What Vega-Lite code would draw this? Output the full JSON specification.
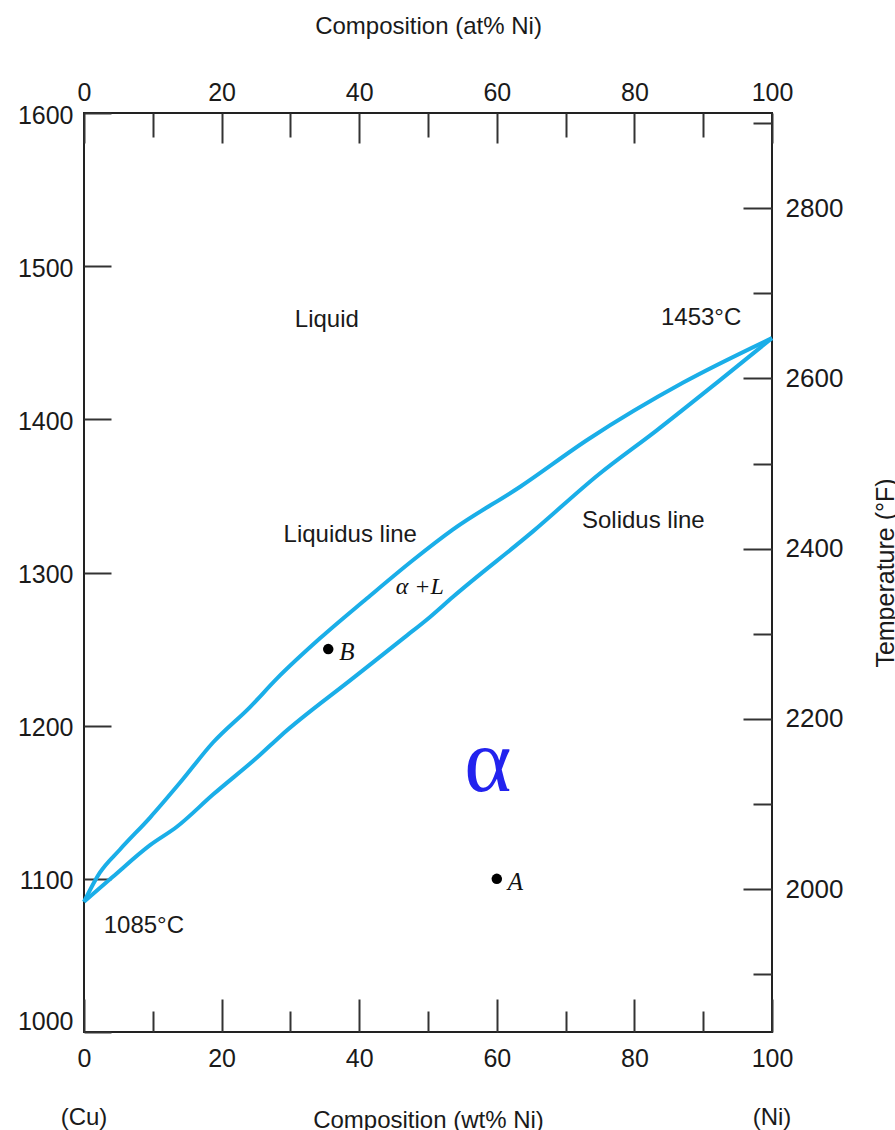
{
  "$schema": "https://vega.github.io/schema/vega-lite/v6.json",
  "width": 688,
  "height": 919,
  "autosize": "none",
  "padding": {"left": 84, "top": 113, "right": 123, "bottom": 98},
  "background": "white",
  "config": {
    "view": {"stroke": "#222", "strokeWidth": 2},
    "axis": {
      "domain": false, "grid": false,
      "labelFont": "Liberation Sans", "titleFont": "Liberation Sans",
      "labelColor": "#1a1a1a", "titleColor": "#1a1a1a", "titleFontWeight": "normal",
      "tickColor": "#333", "tickWidth": 2, "labelOverlap": false
    }
  },
  "datasets": {
    "curves": [
      {"curve": "liquidus", "wt": 0, "T": 1085},
      {"curve": "liquidus", "wt": 2.3, "T": 1104},
      {"curve": "liquidus", "wt": 5.2, "T": 1119},
      {"curve": "liquidus", "wt": 9.6, "T": 1140},
      {"curve": "liquidus", "wt": 14, "T": 1163},
      {"curve": "liquidus", "wt": 18.75, "T": 1189},
      {"curve": "liquidus", "wt": 24.1, "T": 1212},
      {"curve": "liquidus", "wt": 28.1, "T": 1231},
      {"curve": "liquidus", "wt": 34.3, "T": 1257},
      {"curve": "liquidus", "wt": 41.1, "T": 1283},
      {"curve": "liquidus", "wt": 47.8, "T": 1308},
      {"curve": "liquidus", "wt": 53.6, "T": 1328},
      {"curve": "liquidus", "wt": 63.4, "T": 1356},
      {"curve": "liquidus", "wt": 73.3, "T": 1387},
      {"curve": "liquidus", "wt": 87.1, "T": 1424},
      {"curve": "liquidus", "wt": 100, "T": 1453},
      {"curve": "solidus", "wt": 0, "T": 1085},
      {"curve": "solidus", "wt": 4.1, "T": 1101},
      {"curve": "solidus", "wt": 9.6, "T": 1122},
      {"curve": "solidus", "wt": 13.5, "T": 1134},
      {"curve": "solidus", "wt": 18.75, "T": 1155},
      {"curve": "solidus", "wt": 25.6, "T": 1181},
      {"curve": "solidus", "wt": 28.5, "T": 1193},
      {"curve": "solidus", "wt": 39.1, "T": 1231},
      {"curve": "solidus", "wt": 46.4, "T": 1257},
      {"curve": "solidus", "wt": 50.3, "T": 1271},
      {"curve": "solidus", "wt": 53.6, "T": 1284},
      {"curve": "solidus", "wt": 65.3, "T": 1327},
      {"curve": "solidus", "wt": 74.8, "T": 1364},
      {"curve": "solidus", "wt": 83.3, "T": 1393},
      {"curve": "solidus", "wt": 92, "T": 1424},
      {"curve": "solidus", "wt": 100, "T": 1453}
    ],
    "pts": [
      {"lbl": "A", "wt": 60, "T": 1100, "F": 2012},
      {"lbl": "B", "wt": 35.5, "T": 1250, "F": 2282}
    ],
    "notes": [
      {"label": "Liquid", "wt": 35.3, "T": 1465},
      {"label": "1453°C", "wt": 89.7, "T": 1466},
      {"label": "1085°C", "wt": 8.7, "T": 1069},
      {"label": "Liquidus line", "wt": 38.7, "T": 1324.5},
      {"label": "Solidus line", "wt": 81.3, "T": 1333.6}
    ],
    "phase": [
      {"label": "α +L", "wt": 48.8, "T": 1290.5}
    ],
    "alpha": [
      {"label": "α", "wt": 58.7, "T": 1175}
    ],
    "ends": [
      {"label": "(Cu)", "wt": 0, "T": 1000},
      {"label": "(Ni)", "wt": 100, "T": 1000}
    ]
  },
  "layer": [
    {
      "data": {"name": "curves"},
      "mark": {"type": "line", "color": "#1aaee8", "strokeWidth": 4, "interpolate": "monotone"},
      "encoding": {
        "x": {
          "field": "wt", "type": "quantitative",
          "scale": {"domain": [0, 100], "nice": false},
          "axis": {
            "orient": "bottom",
            "values": [0, 10, 20, 30, 40, 50, 60, 70, 80, 90, 100],
            "format": "d",
            "labelExpr": "datum.value % 20 === 0 ? datum.label : ''",
            "tickSize": {"condition": {"test": "datum.value % 20 === 0", "value": -33}, "value": -21},
            "labelPadding": 47, "labelFontSize": 25, "labelFlush": false,
            "title": "Composition (wt% Ni)", "titleFontSize": 24, "titlePadding": 25
          }
        },
        "y": {
          "field": "T", "type": "quantitative",
          "scale": {"domain": [1000, 1600], "nice": false, "zero": false},
          "axis": {
            "orient": "left",
            "values": [1000, 1100, 1200, 1300, 1400, 1500, 1600],
            "format": "d",
            "tickSize": -27, "labelPadding": 38, "labelFontSize": 25, "labelFlush": false,
            "labelBaseline": {"condition": {"test": "datum.value === 1000", "value": "bottom"}, "value": "middle"},
            "labelOffset": 2,
            "title": null
          }
        },
        "detail": {"field": "curve"}
      }
    },
    {
      "data": {"name": "pts"},
      "mark": {"type": "circle", "size": 110, "color": "black", "opacity": 1},
      "encoding": {
        "x": {
          "field": "wt", "type": "quantitative",
          "scale": {"domain": [0, 100], "nice": false},
          "axis": {
            "orient": "top",
            "values": [0, 10, 20, 30, 40, 50, 60, 70, 80, 90, 100],
            "format": "d",
            "labelExpr": "datum.value % 20 === 0 ? datum.label : ''",
            "tickSize": {"condition": {"test": "datum.value % 20 === 0", "value": -30}, "value": -24},
            "labelPadding": 38, "labelFontSize": 25, "labelFlush": false,
            "title": "Composition (at% Ni)", "titleFontSize": 24, "titlePadding": 36
          }
        },
        "y": {"field": "T", "type": "quantitative", "scale": {"domain": [1000, 1600], "nice": false, "zero": false}, "axis": null}
      }
    },
    {
      "data": {"name": "pts"},
      "mark": {"type": "text", "font": "Liberation Serif", "fontStyle": "italic", "fontSize": 25, "align": "left", "baseline": "middle", "dx": 11, "dy": 3, "color": "#111"},
      "encoding": {
        "x": {"field": "wt", "type": "quantitative", "axis": null},
        "y": {"field": "T", "type": "quantitative", "scale": {"domain": [1000, 1600], "nice": false, "zero": false}, "axis": null},
        "text": {"field": "lbl"}
      }
    },
    {
      "data": {"name": "notes"},
      "mark": {"type": "text", "font": "Liberation Sans", "fontSize": 24, "align": "center", "baseline": "middle", "color": "#1a1a1a"},
      "encoding": {
        "x": {"field": "wt", "type": "quantitative", "axis": null},
        "y": {"field": "T", "type": "quantitative", "scale": {"domain": [1000, 1600], "nice": false, "zero": false}, "axis": null},
        "text": {"field": "label"}
      }
    },
    {
      "data": {"name": "phase"},
      "mark": {"type": "text", "font": "Liberation Serif", "fontStyle": "italic", "fontSize": 24, "align": "center", "baseline": "middle", "color": "#111"},
      "encoding": {
        "x": {"field": "wt", "type": "quantitative", "axis": null},
        "y": {"field": "T", "type": "quantitative", "scale": {"domain": [1000, 1600], "nice": false, "zero": false}, "axis": null},
        "text": {"field": "label"}
      }
    },
    {
      "data": {"name": "alpha"},
      "mark": {"type": "text", "font": "Liberation Serif", "fontSize": 90, "align": "center", "baseline": "middle", "color": "#2323ee"},
      "encoding": {
        "x": {"field": "wt", "type": "quantitative", "axis": null},
        "y": {"field": "T", "type": "quantitative", "scale": {"domain": [1000, 1600], "nice": false, "zero": false}, "axis": null},
        "text": {"field": "label"}
      }
    },
    {
      "data": {"name": "ends"},
      "mark": {"type": "text", "font": "Liberation Sans", "fontSize": 24, "align": "center", "baseline": "top", "dy": 74, "color": "#1a1a1a"},
      "encoding": {
        "x": {"field": "wt", "type": "quantitative", "axis": null},
        "y": {"field": "T", "type": "quantitative", "scale": {"domain": [1000, 1600], "nice": false, "zero": false}, "axis": null},
        "text": {"field": "label"}
      }
    },
    {
      "data": {"name": "pts"},
      "mark": {"type": "point", "opacity": 0},
      "encoding": {
        "x": {"field": "wt", "type": "quantitative", "axis": null},
        "y": {
          "field": "F", "type": "quantitative",
          "scale": {"domain": [1832, 2912], "nice": false, "zero": false},
          "axis": {
            "orient": "right",
            "values": [1900, 2000, 2100, 2200, 2300, 2400, 2500, 2600, 2700, 2800, 2900],
            "format": "d",
            "labelExpr": "datum.value % 200 === 0 ? datum.label : ''",
            "tickSize": {"condition": {"test": "datum.value % 200 === 0", "value": -29}, "value": -19},
            "labelPadding": 42, "labelFontSize": 26,
            "title": "Temperature (°F)", "titleFontSize": 25, "titleAngle": 270, "titleBaseline": "top", "titlePadding": 31
          }
        }
      }
    }
  ],
  "resolve": {"scale": {"y": "independent"}, "axis": {"x": "independent", "y": "independent"}}
}
